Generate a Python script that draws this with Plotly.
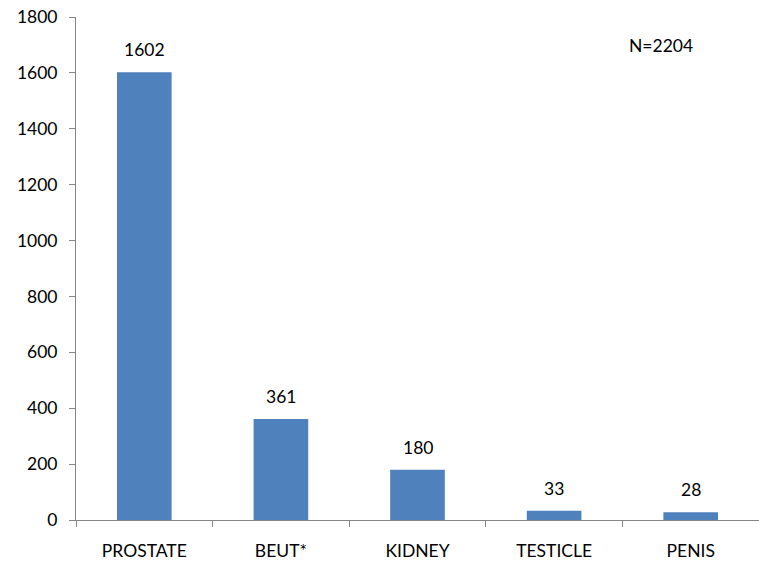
import plotly.graph_objects as go

categories = ["PROSTATE", "BEUT*", "KIDNEY", "TESTICLE", "PENIS"]
values = [1602, 361, 180, 33, 28]
y_ticks = [0, 200, 400, 600, 800, 1000, 1200, 1400, 1600, 1800]
note = "N=2204"

FONT = "Lato, 'Open Sans', sans-serif"
AXIS_COLOR = "#868686"
FS = 17.5

fig = go.Figure()
fig.add_trace(go.Bar(
    x=categories, y=values,
    marker=dict(color="#4F81BD", line=dict(width=0)),
    width=0.4,
))
for c, v in zip(categories, values):
    fig.add_annotation(x=c, y=v, text=str(v), showarrow=False,
                       yanchor="bottom", yshift=10,
                       font=dict(family=FONT, size=FS, color="#000"))
fig.add_annotation(xref="paper", yref="paper", x=0.856, y=0.944, text=note,
                   showarrow=False, xanchor="center", yanchor="middle",
                   font=dict(family=FONT, size=FS, color="#000"))

fig.update_layout(
    width=759, height=568,
    margin=dict(l=76, r=0, t=17, b=48, autoexpand=False),
    paper_bgcolor="white", plot_bgcolor="white",
    showlegend=False,
    font=dict(family=FONT, size=FS, color="#000"),
    xaxis=dict(
        showline=True, linecolor=AXIS_COLOR, linewidth=1,
        ticks="outside", tickson="boundaries", ticklen=6, tickcolor=AXIS_COLOR,
        showgrid=False, ticklabelstandoff=15, automargin=False,
        tickfont=dict(family=FONT, size=FS, color="#000"),
    ),
    yaxis=dict(
        range=[0, 1800], tickvals=y_ticks,
        showline=True, linecolor=AXIS_COLOR, linewidth=1,
        ticks="outside", ticklen=6, tickcolor=AXIS_COLOR,
        showgrid=False, zeroline=False, ticklabelstandoff=8, automargin=False,
        tickfont=dict(family=FONT, size=FS, color="#000"),
    ),
)

fig.write_html("out.html",
               config={"displayModeBar": False, "staticPlot": True},
               post_script="document.body.style.margin='0';document.body.style.overflow='hidden';")
